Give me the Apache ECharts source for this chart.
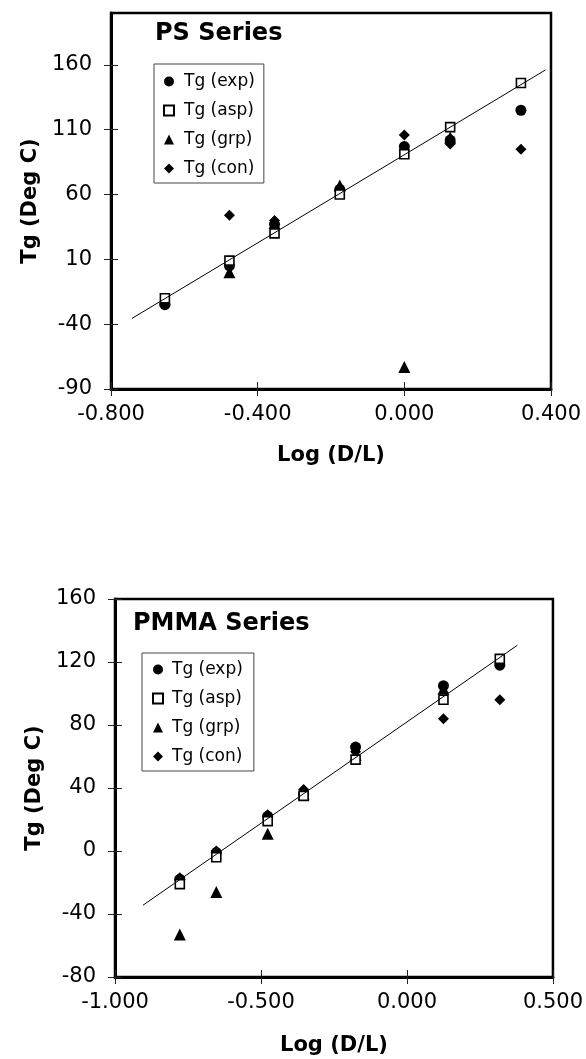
<!DOCTYPE html>
<html>
<head>
<meta charset="utf-8">
<script src="https://cdn.jsdelivr.net/npm/echarts@6/dist/echarts.min.js"></script>
<style>
html,body{margin:0;padding:0;background:#fff;}
#chart{width:586px;height:1059px;}
</style>
</head>
<body>
<div id="chart"></div>
<script>
// ---- PS series data ----
const psLogDL = [-0.653, -0.477, -0.354, -0.176, 0.000, 0.125, 0.318];
const psExp   = [-25, 5, 37, 64, 97, 102, 125];
const psAsp   = [-20, 9, 30, 60, 91, 112, 146];
const psGrp   = [-21, 0, 38, 67, -73, 104, null];
const psCon   = [-24, 44, 40, 64, 106, 99, 95];
const psFitX  = [-0.743, 0.385];
const psFitY  = [-35.6, 156.1];

// ---- PMMA series data ----
const pmmaLogDL = [-0.778, -0.653, -0.477, -0.354, -0.176, 0.125, 0.318];
const pmmaExp   = [-18, -1, 22, 36, 66, 105, 118];
const pmmaAsp   = [-21, -4, 19, 35, 58, 96, 122];
const pmmaGrp   = [-53, -26, 11, 36, 61, 103, null];
const pmmaCon   = [-17, 0, 23, 39, 63, 84, 96];
const pmmaFitX  = [-0.904, 0.378];
const pmmaFitY  = [-34.4, 130.6];

// ---- axis ticks ----
const psXTicks   = [-0.8, -0.4, 0.0, 0.4];
const psYTicks   = [-90, -40, 10, 60, 110, 160];
const pmmaXTicks = [-1.0, -0.5, 0.0, 0.5];
const pmmaYTicks = [-80, -40, 0, 40, 80, 120, 160];

const names = ['Tg (exp)', 'Tg (asp)', 'Tg (grp)', 'Tg (con)'];
const FONT = 'DejaVu Sans';

function pairs(xs, ys) {
  const out = [];
  for (let i = 0; i < xs.length; i++) if (ys[i] !== null && ys[i] !== undefined) out.push([xs[i], ys[i]]);
  return out;
}

const symStyle = {
  'Tg (exp)': { symbol: 'circle', symbolSize: 11, itemStyle: { color: '#000', opacity: 1 } },
  'Tg (asp)': { symbol: 'rect', symbolSize: 9, itemStyle: { color: '#fff', borderColor: '#000', borderWidth: 1.6, opacity: 1 } },
  'Tg (grp)': { symbol: 'triangle', symbolSize: 12, itemStyle: { color: '#000', opacity: 1 } },
  'Tg (con)': { symbol: 'diamond', symbolSize: 11, itemStyle: { color: '#000', opacity: 1 } }
};

function scatter(name, gi, xs, ys) {
  const s = symStyle[name];
  return {
    type: 'scatter', name: name, xAxisIndex: gi * 2, yAxisIndex: gi * 2,
    data: pairs(xs, ys), symbol: s.symbol, symbolSize: s.symbolSize,
    itemStyle: s.itemStyle, emphasis: { disabled: true }, animation: false
  };
}
function fitLine(gi, xs, ys) {
  return {
    type: 'line', name: 'fit' + gi, xAxisIndex: gi * 2, yAxisIndex: gi * 2,
    data: pairs(xs, ys), symbol: 'none', z: 5,
    lineStyle: { color: '#000', width: 1 }, animation: false
  };
}

const labelStyle = { color: '#000', fontFamily: FONT, fontSize: 21 };
const nameStyle = { color: '#000', fontFamily: FONT, fontSize: 21, fontWeight: 'bold' };

function xAxes(gi, min, max, interval, ticks, gap) {
  return [
    {
      type: 'value', gridIndex: gi, position: 'bottom', min: min, max: max, interval: interval,
      name: 'Log (D/L)', nameLocation: 'middle', nameGap: gap, nameTextStyle: nameStyle,
      axisLine: { show: true, onZero: false, lineStyle: { color: '#000', width: 3 } },
      axisTick: { show: true, length: 7, lineStyle: { color: '#222', width: 1 }, customValues: ticks },
      axisLabel: { ...labelStyle, margin: 15, customValues: ticks, formatter: v => v.toFixed(3) },
      splitLine: { show: false }
    },
    {
      type: 'value', gridIndex: gi, position: 'bottom', min: min, max: max, interval: interval,
      axisLine: { show: false, onZero: false },
      axisTick: { show: true, inside: true, length: 7, lineStyle: { color: '#222', width: 1 }, customValues: ticks },
      axisLabel: { show: false }, splitLine: { show: false }
    }
  ];
}
function yAxes(gi, min, max, interval, ticks, gap) {
  return [
    {
      type: 'value', gridIndex: gi, position: 'left', min: min, max: max, interval: interval,
      name: 'Tg (Deg C)', nameLocation: 'middle', nameGap: gap, nameTextStyle: nameStyle,
      axisLine: { show: true, onZero: false, lineStyle: { color: '#000', width: 3 } },
      axisTick: { show: true, length: 7, lineStyle: { color: '#222', width: 1 }, customValues: ticks },
      axisLabel: { ...labelStyle, margin: 19, customValues: ticks, formatter: v => String(v) },
      splitLine: { show: false }
    },
    {
      type: 'value', gridIndex: gi, position: 'left', min: min, max: max, interval: interval,
      axisLine: { show: false, onZero: false },
      axisTick: { show: true, inside: true, length: 7, lineStyle: { color: '#222', width: 1 }, customValues: ticks },
      axisLabel: { show: false }, splitLine: { show: false }
    }
  ];
}

function legend(left, top, padding, textPad) {
  return {
    orient: 'vertical', left: left, top: top, data: names,
    itemWidth: 10, itemHeight: 10, itemGap: 12, padding: padding,
    borderColor: '#444', borderWidth: 1, backgroundColor: '#fff',
    selectedMode: false,
    textStyle: { color: '#000', fontFamily: FONT, fontSize: 17, padding: [0, 0, 0, textPad] }
  };
}

const option = {
  animation: false,
  backgroundColor: '#fff',
  grid: [
    { left: 111, top: 13, width: 440, height: 376, show: true, borderColor: '#000', borderWidth: 2.5, backgroundColor: 'transparent' },
    { left: 115, top: 599, width: 441, height: 378, show: true, borderColor: '#000', borderWidth: 2.5, backgroundColor: 'transparent' }
  ],
  xAxis: [
    ...xAxes(0, -0.8, 0.4, 0.4, psXTicks, 56),
    ...xAxes(1, -1.0, 0.5, 0.5, pmmaXTicks, 58)
  ],
  yAxis: [
    ...yAxes(0, -90, 200, 50, psYTicks, 70),
    ...yAxes(1, -80, 160, 40, pmmaYTicks, 70)
  ],
  legend: [
    legend(154, 64, [9, 9, 6, 9], 5),
    legend(142, 653, [8, 11, 6, 10], 4)
  ],
  graphic: [
    { type: 'text', left: 155, top: 22, style: { text: 'PS Series', fontFamily: FONT, fontSize: 24, fontWeight: 'bold', fill: '#000' } },
    { type: 'text', left: 133, top: 612, style: { text: 'PMMA Series', fontFamily: FONT, fontSize: 24, fontWeight: 'bold', fill: '#000' } }
  ],
  series: [
    scatter('Tg (exp)', 0, psLogDL, psExp),
    scatter('Tg (grp)', 0, psLogDL, psGrp),
    scatter('Tg (con)', 0, psLogDL, psCon),
    scatter('Tg (asp)', 0, psLogDL, psAsp),
    fitLine(0, psFitX, psFitY),
    scatter('Tg (exp)', 1, pmmaLogDL, pmmaExp),
    scatter('Tg (grp)', 1, pmmaLogDL, pmmaGrp),
    scatter('Tg (con)', 1, pmmaLogDL, pmmaCon),
    scatter('Tg (asp)', 1, pmmaLogDL, pmmaAsp),
    fitLine(1, pmmaFitX, pmmaFitY)
  ]
};

const chart = echarts.init(document.getElementById('chart'), null, { renderer: 'canvas' });
chart.setOption(option);
</script>
</body>
</html>
